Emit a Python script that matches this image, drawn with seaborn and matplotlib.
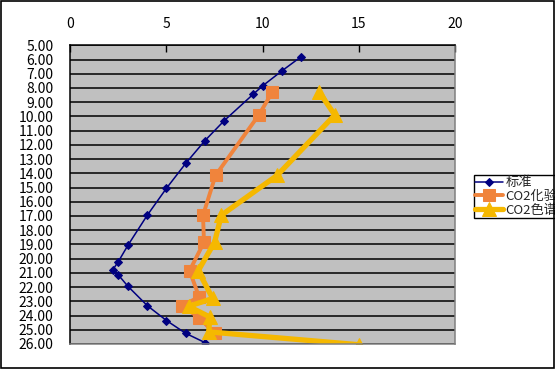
import matplotlib
matplotlib.use("Agg")
import matplotlib.pyplot as plt
import seaborn as sns
import pandas as pd
from matplotlib.patches import Rectangle

sns.set_theme(style="white")
plt.rcParams['font.family'] = ['Noto Sans CJK JP', 'DejaVu Sans']

# Data
std_x = [12, 11, 10, 9.5, 8, 7, 6, 5, 4, 3, 2.5, 2.2, 2.5, 3, 4, 5, 6, 7]
std_y = [5.8, 6.8, 7.85, 8.45, 10.3, 11.7, 13.3, 15.05, 16.95, 19.05,
         20.2, 20.8, 21.15, 21.95, 23.3, 24.35, 25.25, 25.9]

lab_x = [10.5, 9.8, 7.55, 6.9, 6.95, 6.2, 6.7, 5.8, 6.7, 7.5]
lab_y = [8.3, 9.9, 14.15, 16.95, 18.85, 20.85, 22.7, 23.3, 24.15, 25.25]

gc_x = [12.95, 13.75, 10.75, 7.85, 7.5, 6.65, 7.4, 6.15, 7.25, 7.2, 15.0]
gc_y = [8.3, 9.9, 14.15, 16.95, 18.85, 20.85, 22.8, 23.35, 24.1, 25.15, 26.05]

series_names = ["标准", "CO2化验", "CO2色谱"]
x_ticks = [0, 5, 10, 15, 20]
y_ticks = list(range(5, 27))

fig = plt.figure(figsize=(5.55, 3.69), dpi=100)
ax = fig.add_axes([70.3 / 555, 1 - 344 / 369, (455 - 70.3) / 555, (344 - 45.3) / 369])
ax.set_facecolor("#C0C0C0")

sns.lineplot(x=std_x, y=std_y, sort=False, estimator=None, ax=ax,
             color="#000080", linewidth=1.1, marker="D", markersize=4.5,
             markeredgecolor="#000080", label=series_names[0], clip_on=True)
sns.lineplot(x=lab_x, y=lab_y, sort=False, estimator=None, ax=ax,
             color="#F0843C", linewidth=2.8, marker="s", markersize=8,
             markeredgecolor="#F0843C", label=series_names[1], clip_on=True)
sns.lineplot(x=gc_x, y=gc_y, sort=False, estimator=None, ax=ax,
             color="#F5B800", linewidth=3.8, marker="^", markersize=10,
             markeredgecolor="#F5B800", label=series_names[2], clip_on=True)

ax.set_xlim(0, 20)
ax.set_ylim(26, 5)
ax.set_xticks(x_ticks)
ax.set_yticks(y_ticks)
ax.set_yticklabels([f"{v:.2f}" for v in y_ticks])
ax.xaxis.tick_top()
ax.tick_params(axis='x', direction='in', length=5, width=1, color='black',
               pad=10, labelsize=10, top=True, bottom=False, labelcolor='black')
ax.tick_params(axis='y', length=0, pad=12, labelsize=10, labelcolor='black')
ax.yaxis.grid(True, color='black', linewidth=1.1)
ax.xaxis.grid(False)
ax.set_axisbelow(True)
for side in ['left', 'top']:
    ax.spines[side].set_color('black')
    ax.spines[side].set_linewidth(1.1)
for side in ['right', 'bottom']:
    ax.spines[side].set_color('#808080')
    ax.spines[side].set_linewidth(1.1)
ax.set_xlabel("")
ax.set_ylabel("")

leg = ax.legend(loc="upper left", bbox_to_anchor=(474 / 555, 1 - 175 / 369),
                bbox_transform=fig.transFigure, frameon=True, fancybox=False,
                framealpha=1, edgecolor='black', fontsize=9.5, labelspacing=0.05,
                handlelength=2.1, handletextpad=0.2, borderpad=0.1,
                borderaxespad=0)
leg.get_frame().set_linewidth(1.0)

fig.patches.append(Rectangle((1 / 555, 1 / 369), 553 / 555, 367 / 369,
                             transform=fig.transFigure, fill=False,
                             edgecolor='black', linewidth=1.2))

fig.savefig("out.png", dpi=100)
